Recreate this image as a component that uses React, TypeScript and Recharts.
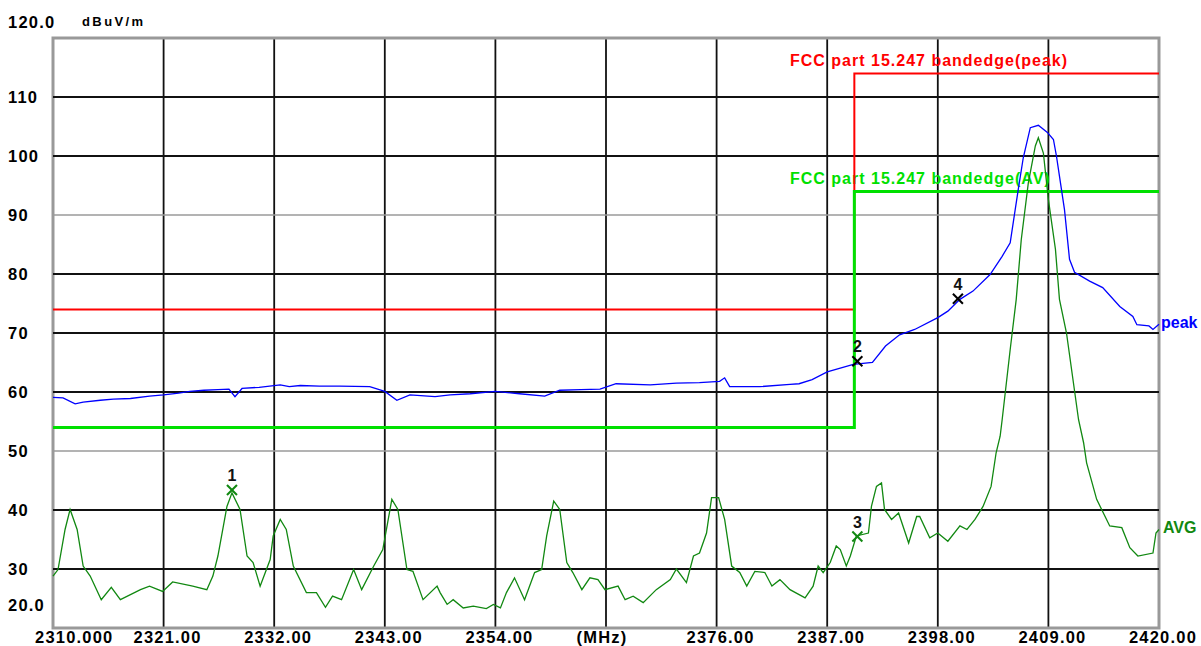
import React from 'react';
import {
  ComposedChart,
  Line,
  XAxis,
  YAxis,
  CartesianGrid,
  ReferenceLine,
  ReferenceDot,
  ReferenceArea,
  Customized,
} from 'recharts';

// axis ticks
const freqTicks = [2310, 2321, 2332, 2343, 2354, 2365, 2376, 2387, 2398, 2409, 2420];
const freqTickLabels = ['2310.000', '2321.00', '2332.00', '2343.00', '2354.00', '(MHz)', '2376.00', '2387.00', '2398.00', '2409.00', '2420.00'];
const levelTicks = [20, 30, 40, 50, 60, 70, 80, 90, 100, 110, 120];
const levelTickLabels = ['20.0', '30', '40', '50', '60', '70', '80', '90', '100', '110', '120.0'];
const gridLevels = [30, 40, 50, 60, 70, 80, 90, 100, 110];

// FCC limit lines
const limitFreq = [2310, 2389.7, 2420];
const peakLimit = [74, 114, 114];
const avgLimit = [54, 94, 94];

// peak trace
const peakFreq = [
  2310.0, 2311.0, 2312.2, 2313.0, 2314.7, 2316.0, 2317.7, 2319.6, 2321.0, 2322.5,
  2323.6, 2325.0, 2326.4, 2327.5, 2328.1, 2328.8, 2330.5, 2332.6, 2333.5, 2334.6,
  2336.5, 2338.5, 2341.5, 2343.0, 2344.2, 2345.5, 2348.0, 2349.5, 2351.5, 2354.0,
  2356.4, 2358.9, 2360.4, 2362.5, 2364.4, 2366.0, 2369.4, 2372.0, 2374.3, 2376.3,
  2376.8, 2377.3, 2380.3, 2383.3, 2384.2, 2385.5, 2387.0, 2389.6, 2391.5, 2392.8,
  2394.2, 2395.7, 2398.0, 2399.0, 2400.2, 2401.5, 2403.2, 2404.4, 2405.2, 2405.6,
  2406.0, 2406.5, 2407.2, 2408.0, 2408.9, 2409.5, 2409.8, 2410.1, 2410.6, 2411.1,
  2411.6, 2413.1, 2414.4, 2416.1, 2417.4, 2417.8, 2419.0, 2419.4, 2420.0,
];
const peakVal = [
  59.1, 59.0, 58.0, 58.3, 58.6, 58.8, 58.9, 59.3, 59.5, 59.8,
  60.1, 60.3, 60.4, 60.5, 59.2, 60.6, 60.8, 61.2, 60.9, 61.1,
  61.0, 61.0, 60.9, 60.1, 58.6, 59.5, 59.2, 59.5, 59.7, 60.1,
  59.7, 59.3, 60.3, 60.4, 60.5, 61.4, 61.2, 61.5, 61.6, 61.8,
  62.4, 60.9, 60.9, 61.3, 61.4, 62.1, 63.4, 64.7, 65.0, 67.8,
  69.7, 70.6, 72.6, 73.7, 75.7, 77.1, 79.9, 83.0, 85.3, 89.8,
  94.3, 99.7, 104.8, 105.2, 104.0, 102.8, 100.0, 96.6, 90.9, 82.5,
  80.3, 78.8, 77.7, 74.5, 72.8, 71.4, 71.2, 70.6, 71.5,
];

// average trace
const avgFreq = [
  2310.0, 2310.5, 2311.2, 2311.7, 2312.4, 2313.0, 2313.7, 2314.8, 2315.8, 2316.7,
  2318.7, 2319.6, 2320.9, 2321.9, 2323.9, 2325.3, 2325.9, 2326.4, 2327.3, 2327.8,
  2328.6, 2329.3, 2329.9, 2330.6, 2331.6, 2331.9, 2332.6, 2333.2, 2333.9, 2335.2,
  2336.2, 2337.1, 2337.8, 2338.7, 2339.9, 2340.7, 2341.9, 2342.8, 2343.7, 2344.3,
  2345.2, 2345.8, 2346.8, 2348.2, 2348.5, 2349.2, 2349.8, 2350.8, 2351.8, 2353.1,
  2353.8, 2354.5, 2355.1, 2355.9, 2356.9, 2357.9, 2358.6, 2359.1, 2359.8, 2360.4,
  2361.1, 2361.7, 2362.6, 2363.4, 2364.2, 2364.9, 2366.2, 2366.9, 2367.7, 2368.7,
  2370.0, 2371.4, 2372.0, 2373.0, 2373.7, 2374.3, 2375.0, 2375.5, 2376.2, 2376.8,
  2377.5, 2378.3, 2379.0, 2379.8, 2380.8, 2381.5, 2382.3, 2383.3, 2384.8, 2385.6,
  2386.1, 2386.6, 2387.3, 2387.9, 2388.3, 2388.9, 2389.3, 2389.9, 2391.1, 2391.4,
  2391.9, 2392.4, 2392.7, 2393.4, 2394.1, 2395.1, 2395.9, 2396.2, 2397.2, 2398.0,
  2399.0, 2400.2, 2400.9, 2401.7, 2402.5, 2403.3, 2403.8, 2404.2, 2404.4, 2405.2,
  2405.8, 2406.3, 2407.0, 2407.7, 2408.0, 2408.5, 2409.0, 2409.7, 2410.1, 2410.8,
  2412.0, 2412.5, 2412.8, 2413.8, 2415.1, 2416.3, 2417.1, 2417.9, 2419.4, 2419.7,
  2420.0,
];
const avgVal = [
  28.8, 29.9, 36.7, 40.1, 36.7, 30.5, 28.8, 24.8, 26.9, 24.8,
  26.5, 27.1, 26.2, 27.8, 27.1, 26.5, 28.8, 32.2, 40.6, 42.9,
  40.1, 32.2, 31.1, 27.1, 31.6, 35.6, 38.4, 36.7, 30.5, 26.0,
  26.0, 23.5, 25.4, 24.8, 29.9, 26.5, 30.5, 33.3, 41.8, 40.1,
  29.9, 29.6, 24.8, 27.1, 26.0, 24.0, 24.8, 23.4, 23.7, 23.3,
  24.0, 23.4, 26.0, 28.5, 24.8, 29.4, 29.9, 35.6, 41.5, 40.1,
  31.1, 29.4, 26.5, 28.5, 28.2, 26.5, 27.1, 24.8, 25.4, 24.3,
  26.5, 28.2, 30.0, 27.7, 32.2, 32.7, 36.1, 42.1, 42.1, 38.4,
  30.5, 29.4, 27.1, 29.6, 29.4, 27.1, 28.2, 26.5, 25.1, 27.1,
  30.5, 29.4, 31.1, 33.9, 33.3, 30.5, 32.2, 35.6, 36.1, 40.6,
  44.0, 44.6, 40.1, 38.4, 39.5, 34.4, 38.9, 38.9, 35.3, 36.1,
  34.7, 37.3, 36.7, 38.4, 40.6, 44.0, 49.7, 52.5, 55.3, 67.2,
  75.7, 85.8, 95.4, 101.7, 103.1, 100.5, 92.6, 84.2, 75.7, 70.0,
  55.3, 51.4, 48.0, 41.8, 37.3, 37.0, 33.6, 32.2, 32.7, 36.1,
  36.7,
];

// markers
const markerFreq = [2327.8, 2390.0, 2390.0, 2400.0];
const markerVal = [43.4, 65.2, 35.5, 75.8];
const markerLabel = ['1', '2', '3', '4'];
const markerColor = ['#118811', '#000000', '#118811', '#000000'];

const pts = (fs: number[], vs: number[]) => fs.map((f, i) => ({ f, v: vs[i] }));

const FONT = '"Liberation Sans", Arial, sans-serif';

const XTick = (props: any) => {
  const { x, index } = props;
  const label = freqTickLabels[index];
  const first = index === 0;
  return (
    <text
      x={first ? x - 18 : x + (label.startsWith('(') ? -4 : 4)}
      y={643}
      textAnchor={first ? 'start' : 'middle'}
      fontFamily={FONT}
      fontWeight="bold"
      fontSize={16.5}
      letterSpacing={1.2}
      fill="#000"
    >
      {label}
    </text>
  );
};

const YTick = (props: any) => {
  const { y, index } = props;
  const label = levelTickLabels[index];
  let dy = 6;
  if (label === '120.0') dy = -10;
  if (label === '20.0') dy = -17;
  return (
    <text
      x={8}
      y={y + dy}
      textAnchor="start"
      fontFamily={FONT}
      fontWeight="bold"
      fontSize={16.5}
      letterSpacing={1.2}
      fill="#000"
    >
      {label}
    </text>
  );
};

const Marker = (color: string, label: string) => (props: any) => {
  const { cx, cy } = props;
  const s = 5;
  return (
    <g>
      <line x1={cx - s} y1={cy - s} x2={cx + s} y2={cy + s} stroke={color} strokeWidth={2} />
      <line x1={cx - s} y1={cy + s} x2={cx + s} y2={cy - s} stroke={color} strokeWidth={2} />
      <text x={cx} y={cy - 9} textAnchor="middle" fontFamily={FONT} fontWeight="bold" fontSize={16} fill="#111">
        {label}
      </text>
    </g>
  );
};

const Annotations = () => (
  <g fontFamily={FONT} fontWeight="bold">
    <text x={82} y={26} fontSize={13} letterSpacing={2.4} fill="#000">dBuV/m</text>
    <text x={790} y={66} fontSize={16} letterSpacing={1} fill="#ff0000">FCC part 15.247 bandedge(peak)</text>
    <text x={790} y={184} fontSize={16} letterSpacing={1} fill="#00e000">FCC part 15.247 bandedge(AV)</text>
    <text x={1161} y={328} fontSize={16} fill="#0000ff">peak</text>
    <text x={1163} y={533} fontSize={16} fill="#118811">AVG</text>
  </g>
);

export default function App() {
  return (
    <div style={{ position: 'absolute', left: 0, top: 0, width: 1201, height: 646, background: '#fff' }}>
      <ComposedChart width={1201} height={646} margin={{ top: 38, right: 42, bottom: 0, left: 0 }}>
        <XAxis
          type="number"
          dataKey="f"
          domain={[2310, 2420]}
          ticks={freqTicks}
          height={18}
          axisLine={false}
          tickLine={false}
          tick={<XTick />}
          interval={0}
        />
        <YAxis
          type="number"
          domain={[20, 120]}
          ticks={levelTicks}
          width={53}
          axisLine={false}
          tickLine={false}
          tick={<YTick />}
          interval={0}
        />
        <CartesianGrid horizontal={false} stroke="#111" strokeWidth={1.8} />
        {gridLevels.map((lv) => (
          <ReferenceLine
            key={lv}
            y={lv}
            stroke={lv === 50 || lv === 90 ? '#9a9a9a' : '#111'}
            strokeWidth={lv === 50 || lv === 90 ? 1.4 : 1.8}
          />
        ))}
        <Line
          data={pts(limitFreq, peakLimit)}
          dataKey="v"
          type="stepAfter"
          stroke="#ff0000"
          strokeWidth={2}
          dot={false}
          isAnimationActive={false}
        />
        <Line
          data={pts(limitFreq, avgLimit)}
          dataKey="v"
          type="stepAfter"
          stroke="#00e000"
          strokeWidth={3}
          dot={false}
          isAnimationActive={false}
        />
        <Line
          data={pts(avgFreq, avgVal)}
          dataKey="v"
          type="linear"
          stroke="#118811"
          strokeWidth={1.3}
          dot={false}
          isAnimationActive={false}
        />
        <Line
          data={pts(peakFreq, peakVal)}
          dataKey="v"
          type="linear"
          stroke="#0000ff"
          strokeWidth={1.3}
          dot={false}
          isAnimationActive={false}
        />
        {markerFreq.map((f, i) => (
          <ReferenceDot
            key={markerLabel[i]}
            x={f}
            y={markerVal[i]}
            r={5}
            shape={Marker(markerColor[i], markerLabel[i])}
          />
        ))}
        <ReferenceArea x1={2310} x2={2420} y1={20} y2={120} fill="none" stroke="#999" strokeWidth={3} fillOpacity={0} />
        <Customized component={<Annotations />} />
      </ComposedChart>
    </div>
  );
}
